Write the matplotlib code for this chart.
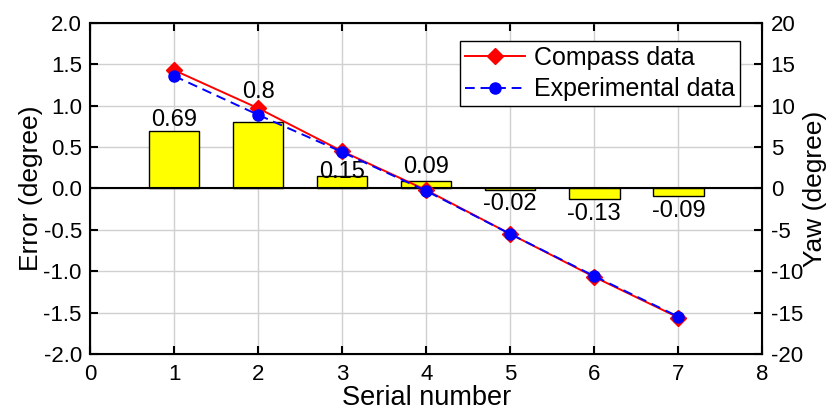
import matplotlib
matplotlib.use('Agg')
import matplotlib.pyplot as plt

plt.rcParams['font.family'] = ['Liberation Sans', 'DejaVu Sans']
plt.rcParams['axes.unicode_minus'] = False

serial = [1, 2, 3, 4, 5, 6, 7]
error = [0.69, 0.8, 0.15, 0.09, -0.02, -0.13, -0.09]
compass = [14.3, 9.7, 4.5, -0.2, -5.5, -10.7, -15.6]
experimental = [13.6, 8.9, 4.4, -0.3, -5.5, -10.6, -15.5]
error_labels = ['0.69', '0.8', '0.15', '0.09', '-0.02', '-0.13', '-0.09']

# label offsets in points, as placed in the original figure
label_dy = [0, 14, -5, 2, -2, -3, -3]

fig, ax = plt.subplots(figsize=(8.35, 4.12), dpi=100)
fig.subplots_adjust(left=0.108, right=0.913, top=0.944, bottom=0.141)

ax.bar(serial, error, width=0.6, color='yellow', edgecolor='black', linewidth=1.0, zorder=2)
ax.axhline(0, color='black', linewidth=1.5, zorder=3)
for x, v, s, dy in zip(serial, error, error_labels, label_dy):
    ax.annotate(s, (x, v), xytext=(0, dy), textcoords='offset points',
                ha='center', va='bottom' if v >= 0 else 'top', fontsize=17, zorder=6)

ax.set_xlim(0, 8)
ax.set_ylim(-2, 2)
ax.set_xticks(range(0, 9))
ax.set_yticks([-2, -1.5, -1, -0.5, 0, 0.5, 1, 1.5, 2])
ax.set_yticklabels(['%.1f' % t for t in ax.get_yticks()])
ax.grid(True, color='#d0d0d0', linewidth=1.0, zorder=0)
ax.set_axisbelow(True)
ax.set_xlabel('Serial number', fontsize=19.5, labelpad=0)
ax.set_ylabel('Error (degree)', fontsize=19, labelpad=0)
ax.tick_params(direction='in', labelsize=16, width=1.5, length=6, top=True)
ax.tick_params(axis='x', pad=7)
ax.tick_params(axis='y', pad=6)
for sp in ax.spines.values():
    sp.set_linewidth(1.5)

ax2 = ax.twinx()
ax2.plot(serial, compass, 'r-', marker='D', markersize=8, linewidth=1.4, label='Compass data', zorder=4)
ax2.plot(serial, experimental, 'b--', marker='o', markersize=8, linewidth=1.4,
         dashes=(5, 3), label='Experimental data', zorder=5)
ax2.set_ylim(-20, 20)
ax2.set_yticks(range(-20, 21, 5))
ax2.set_ylabel('Yaw (degree)', fontsize=19, labelpad=0)
ax2.tick_params(direction='in', labelsize=16, width=1.5, length=6, pad=6)

leg = ax2.legend(loc='upper right', fontsize=18, fancybox=False, edgecolor='black',
                 framealpha=1, bbox_to_anchor=(0.967, 0.946), borderaxespad=0,
                 handlelength=2.4, borderpad=0.2, labelspacing=0.3, handletextpad=0.35)
leg.get_frame().set_linewidth(1.0)

plt.savefig('out.png', dpi=100)
